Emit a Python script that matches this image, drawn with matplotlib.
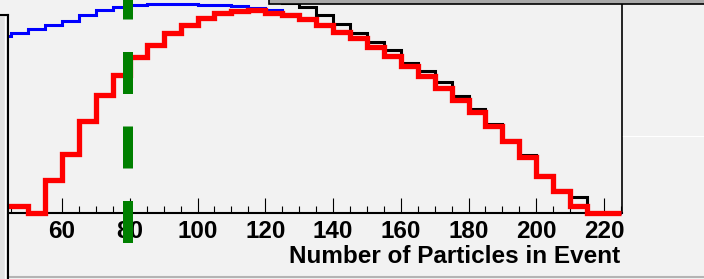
import numpy as np
import matplotlib
matplotlib.use("Agg")
import matplotlib.pyplot as plt
from matplotlib.patches import Rectangle
from matplotlib.lines import Line2D
from matplotlib.ticker import MultipleLocator

plt.rcParams['font.family'] = ['Liberation Sans', 'DejaVu Sans']
plt.rcParams['font.weight'] = 'bold'

# --- data (arbitrary units, 5 particles per bin) ---
bin_edges = np.arange(40, 230, 5)

all_events = [831, 844, 863, 883, 903, 930, 953, 969, 977, 981,
              981, 981, 977, 977, 971, 961, 953, 934, 910, 883,
              849, 821, 781, 738, 691, 641, 589, 532, 472, 407,
              340, 263, 172, 102, 32, 0, 0]
reference = [1060, 1075, 1090, 1100, 1110, 1115, 1120, 1120, 1115, 1110,
             1100, 1090, 1075, 1060, 1045, 1030, 1012, 985, 969, 930,
             888, 847, 805, 763, 706, 669, 617, 547, 489, 419,
             344, 274, 180, 110, 77, 0, 0]
selected = [32, 32, 0, 157, 279, 433, 552, 649, 733, 789,
            845, 883, 914, 938, 949, 953, 941, 930, 910, 883,
            849, 821, 781, 738, 691, 641, 589, 532, 472, 407,
            340, 263, 172, 102, 32, 0, 0]
cut_value = 79.4

# --- canvas ---
W, H = 704, 279
bg = '#f2f2f2'
fig = plt.figure(figsize=(W/100, H/100), dpi=100, facecolor=bg)

k = 1000/213.0   # value per pixel
ax = fig.add_axes([8/W, (H-218)/H, 614/W, 248/H])
ax.set_facecolor(bg)
ax.set_xlim(44.06, 225.3)
ax.set_ylim(-5*k, 243*k)

for s in ['top', 'left']:
    ax.spines[s].set_visible(False)
ax.spines['bottom'].set_position(('data', 0))
ax.spines['bottom'].set_linewidth(1.5)
ax.spines['right'].set_bounds(0, 243*k)
ax.spines['right'].set_linewidth(1.2)

ax.set_xticks(np.arange(60, 221, 20))
ax.xaxis.set_minor_locator(MultipleLocator(5))
ax.tick_params(axis='x', which='major', direction='in', length=10.8, width=0.8,
               pad=5.3, labelsize=17.5)
ax.tick_params(axis='x', which='minor', direction='in', length=5.4, width=0.8)
ax.set_yticks([])

ax.stairs(all_events, bin_edges, baseline=None, color='#0000ff', lw=2.2, zorder=2.6)
ax.stairs(reference, bin_edges, baseline=None, color='black', lw=2.2, zorder=2.8)
ax.stairs(selected, bin_edges, baseline=None, color='#ff0000', lw=3.8, zorder=3)

ax.plot([cut_value, cut_value], [-30.3*k, 270*k], color='#008000', lw=7.2,
        linestyle=(0, (4.2, 3.25)), clip_on=False, zorder=6)

ax.set_xlabel('Number of Particles in Event', fontsize=17.5, fontweight='bold')
ax.xaxis.label.set_ha('right')
ax.xaxis.label.set_va('baseline')
ax.xaxis.set_label_coords((620-8)/614, (218-263)/248)

# --- surrounding pads / boxes ---
fig.add_artist(Rectangle((269/W, (H-3.5)/H), (W-259)/W, 30/H, transform=fig.transFigure,
                         facecolor='#a8a8a8', edgecolor='black', lw=1.2, zorder=10))
fig.add_artist(Rectangle((0, 0), 8/W, (H-15)/H, transform=fig.transFigure,
                         facecolor='#e2e2e2', edgecolor='none', zorder=10))
fig.add_artist(Line2D([4.5/W, 4.5/W], [0, (H-17)/H], color='white', lw=1.0, zorder=11))
fig.add_artist(Line2D([8/W, 8/W], [0, (H-15)/H], color='black', lw=1.5, zorder=11))
fig.add_artist(Line2D([0, 8/W], [(H-15)/H, (H-15)/H], color='black', lw=1.5, zorder=11))
fig.add_artist(Line2D([623/W, 1], [(H-136)/H, (H-136)/H], color='white', lw=0.8, zorder=10))
fig.add_artist(Line2D([9/W, 1], [(H-276.5)/H, (H-276.5)/H], color='#b4b4b4', lw=1.5, zorder=10))

fig.savefig('out.png', dpi=100, facecolor=bg)
